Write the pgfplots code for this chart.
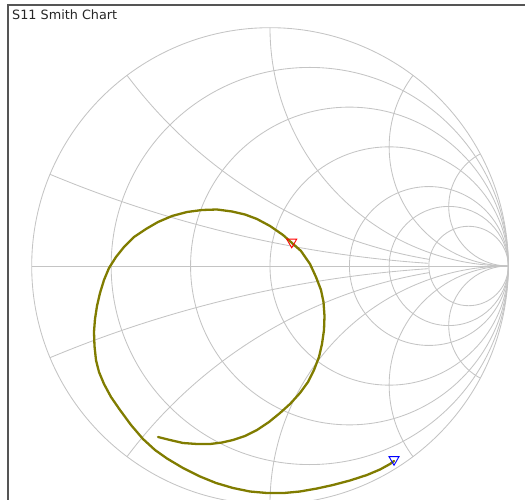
\documentclass[border=0pt]{standalone}
\usepackage{pgfplots}
\pgfplotsset{compat=1.18}
\usepackage{fontspec}
\setmainfont{DejaVu Sans}
\definecolor{gridc}{RGB}{196,196,196}
\definecolor{tracec}{RGB}{128,124,0}
\definecolor{framec}{RGB}{85,85,85}
\begin{document}
\begin{tikzpicture}
\useasboundingbox (0,0) rectangle (525pt,500pt);
\begin{axis}[
  at={(0,0)}, anchor=south west,
  x=238.3pt, y=238.3pt,
  xmin=-1.13303, xmax=1.07008, ymin=-0.98195, ymax=1.11624,
  hide axis, clip=true,
]
% frame
\draw[framec, line width=1.7pt] (axis cs:-1.0986,-1.2) -- (axis cs:-1.0986,1.0944) -- (axis cs:1.2,1.0944);
\node[anchor=base west, inner sep=0pt, font=\fontsize{12.8}{14}\selectfont, text=black!85] at (axis cs:-1.0827,1.0323) {S11 Smith Chart};
% Smith chart grid
\begin{scope}[gridc, line width=0.85pt]
\draw (axis cs:0,0) circle[radius=238.3pt];
\draw (axis cs:-1,0) -- (axis cs:1,0);
\draw (axis cs:0.5,0) circle[radius=119.15pt];      % r = 1
\draw (axis cs:0.66667,0) circle[radius=79.433pt];  % r = 2
\draw (axis cs:0.75,0) circle[radius=59.575pt];     % r = 3
\draw (axis cs:0.83333,0) circle[radius=39.717pt];  % r = 5
\draw (axis cs:0.33333,0) circle[radius=158.87pt];  % r = 0.5
\draw (axis cs:0.16667,0) circle[radius=198.58pt];  % r = 0.2
% reactance arcs
\draw (axis cs:1,0) arc[start angle=90, end angle=180, radius=238.3pt];
\draw (axis cs:1,0) arc[start angle=-90, end angle=-180, radius=238.3pt];
\draw (axis cs:1,0) arc[start angle=90, end angle=217, radius=119.15pt];
\draw (axis cs:1,0) arc[start angle=-90, end angle=-217, radius=119.15pt];
\draw (axis cs:1,0) arc[start angle=90, end angle=242, radius=59.575pt];
\draw (axis cs:1,0) arc[start angle=-90, end angle=-242, radius=59.575pt];
\draw (axis cs:0.66991,-0.02742) arc[start angle=99.5, end angle=143.13, radius=476.6pt];
\draw (axis cs:0.66991,0.02742) arc[start angle=-99.5, end angle=-143.13, radius=476.6pt];
\draw (axis cs:0.66428,-0.01128) arc[start angle=93.85, end angle=112.62, radius=1191.5pt];
\draw (axis cs:0.66428,0.01128) arc[start angle=-93.85, end angle=-112.62, radius=1191.5pt];
\end{scope}
% S11 trace
\addplot[tracec, line width=2.3pt, no markers, line join=round, line cap=round] coordinates {
(-0.4700,-0.7176) (-0.4196,-0.7302) (-0.3651,-0.7428) (-0.3063,-0.7470) (-0.2518,-0.7470)
(-0.2014,-0.7407) (-0.1553,-0.7302) (-0.1049,-0.7134) (-0.0546,-0.6882) (-0.0042,-0.6546)
(0.0420,-0.6169) (0.0839,-0.5791) (0.1259,-0.5329) (0.1595,-0.4868) (0.1846,-0.4364)
(0.2056,-0.3819) (0.2182,-0.3273) (0.2266,-0.2686) (0.2287,-0.2098) (0.2245,-0.1511)
(0.2140,-0.1007) (0.1930,-0.0462) (0.1679,0.0084) (0.1301,0.0629) (0.0923,0.0965)
(0.0546,0.1301) (0.0000,0.1679) (-0.0546,0.1972) (-0.1049,0.2161) (-0.1595,0.2287)
(-0.2224,0.2371) (-0.2854,0.2350) (-0.3483,0.2266) (-0.4112,0.2098) (-0.4700,0.1846)
(-0.5204,0.1553) (-0.5707,0.1217) (-0.6127,0.0797) (-0.6462,0.0378) (-0.6756,-0.0084)
(-0.6966,-0.0587) (-0.7134,-0.1133) (-0.7260,-0.1679) (-0.7344,-0.2224) (-0.7386,-0.2770)
(-0.7365,-0.3357) (-0.7302,-0.3945) (-0.7176,-0.4448) (-0.6966,-0.4952) (-0.6672,-0.5497)
(-0.6295,-0.6043) (-0.5833,-0.6672) (-0.5329,-0.7260) (-0.4826,-0.7721) (-0.4322,-0.8078)
(-0.3651,-0.8477) (-0.2937,-0.8833) (-0.2266,-0.9106) (-0.1553,-0.9316) (-0.0839,-0.9463)
(-0.0126,-0.9526) (0.0587,-0.9526) (0.1259,-0.9463) (0.1972,-0.9337) (0.2644,-0.9190)
(0.3357,-0.9001) (0.4070,-0.8770) (0.4616,-0.8540) (0.5036,-0.8309) (0.5204,-0.8183)
};
% markers
\addplot[only marks, mark=triangle, mark size=5.8pt, mark options={rotate=180, draw=red, line width=0.9pt, fill=none}] coordinates {(0.0911,0.1007)};
\addplot[only marks, mark=triangle, mark size=5.8pt, mark options={rotate=180, draw=blue, line width=0.9pt, fill=none}] coordinates {(0.5204,-0.8120)};
\end{axis}
\end{tikzpicture}
\end{document}
